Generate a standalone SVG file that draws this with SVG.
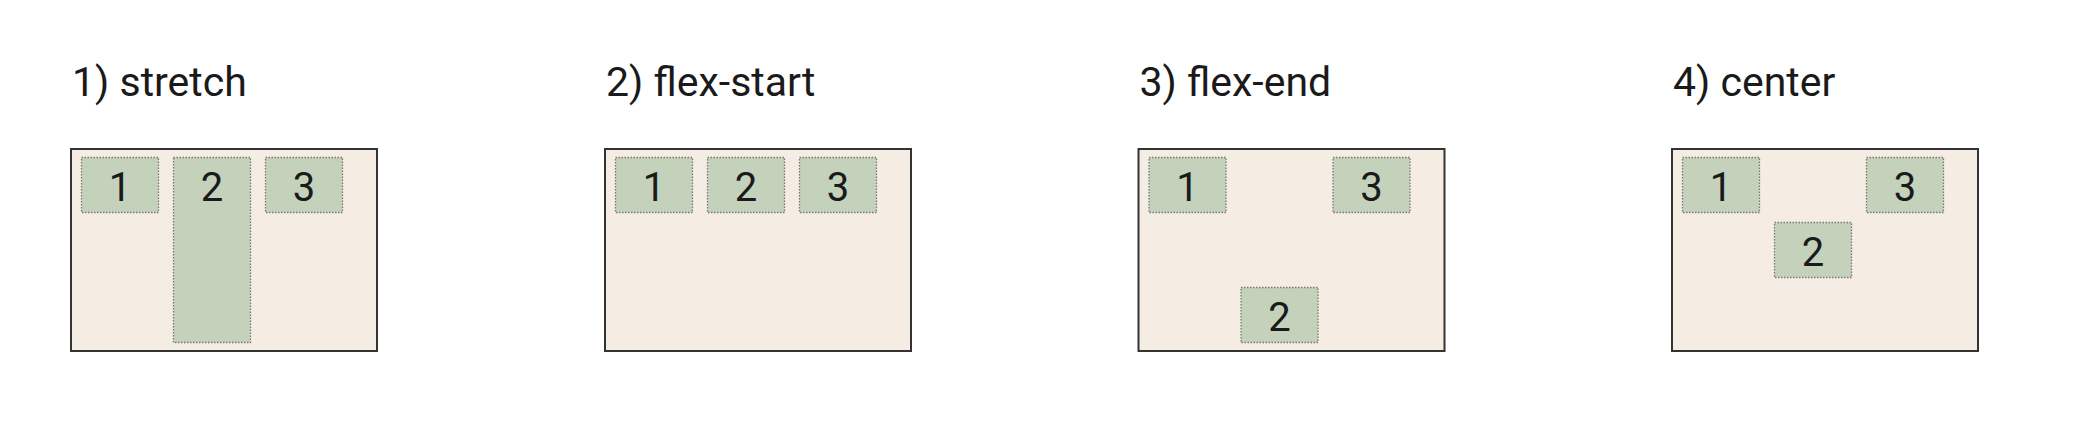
<svg xmlns="http://www.w3.org/2000/svg" width="2080" height="426" viewBox="0 0 2080 426">
<style>
.title{font-family:Roboto,"Liberation Sans",sans-serif;font-size:41px;fill:#1a1a1a}
.box{fill:#f5ece3;stroke:#333;stroke-width:2}
.item{fill:#c4d1bb;stroke:#777;stroke-width:1.3;stroke-dasharray:1.5 1.5}
.num{font-family:Roboto,"Liberation Sans",sans-serif;font-size:40px;fill:#1a1a1a;text-anchor:middle}
</style>
<rect width="2080" height="426" fill="#fff"/>
<g id="panel1">
<text class="title" x="72" y="96">1) stretch</text>
<rect class="box" x="71" y="149" width="306" height="202"/>
<g id="p1-item1"><rect class="item" x="81.5" y="157.5" width="77" height="55"/><text class="num" x="120" y="200.5">1</text></g>
<g id="p1-item2"><rect class="item" x="173.5" y="157.5" width="77" height="185"/><text class="num" x="212" y="200.5">2</text></g>
<g id="p1-item3"><rect class="item" x="265.5" y="157.5" width="77" height="55"/><text class="num" x="304" y="200.5">3</text></g>
</g>
<g id="panel2" transform="translate(534,0)">
<text class="title" x="72" y="96">2) flex-start</text>
<rect class="box" x="71" y="149" width="306" height="202"/>
<g id="p2-item1"><rect class="item" x="81.5" y="157.5" width="77" height="55"/><text class="num" x="120" y="200.5">1</text></g>
<g id="p2-item2"><rect class="item" x="173.5" y="157.5" width="77" height="55"/><text class="num" x="212" y="200.5">2</text></g>
<g id="p2-item3"><rect class="item" x="265.5" y="157.5" width="77" height="55"/><text class="num" x="304" y="200.5">3</text></g>
</g>
<g id="panel3" transform="translate(1067.5,0)">
<text class="title" x="72" y="96">3) flex-end</text>
<rect class="box" x="71" y="149" width="306" height="202"/>
<g id="p3-item1"><rect class="item" x="81.5" y="157.5" width="77" height="55"/><text class="num" x="120" y="200.5">1</text></g>
<g id="p3-item2"><rect class="item" x="173.5" y="287.5" width="77" height="55"/><text class="num" x="212" y="330.5">2</text></g>
<g id="p3-item3"><rect class="item" x="265.5" y="157.5" width="77" height="55"/><text class="num" x="304" y="200.5">3</text></g>
</g>
<g id="panel4" transform="translate(1601,0)">
<text class="title" x="72" y="96">4) center</text>
<rect class="box" x="71" y="149" width="306" height="202"/>
<g id="p4-item1"><rect class="item" x="81.5" y="157.5" width="77" height="55"/><text class="num" x="120" y="200.5">1</text></g>
<g id="p4-item2"><rect class="item" x="173.5" y="222.5" width="77" height="55"/><text class="num" x="212" y="265.5">2</text></g>
<g id="p4-item3"><rect class="item" x="265.5" y="157.5" width="77" height="55"/><text class="num" x="304" y="200.5">3</text></g>
</g>
<g id="connectors"/>
</svg>
